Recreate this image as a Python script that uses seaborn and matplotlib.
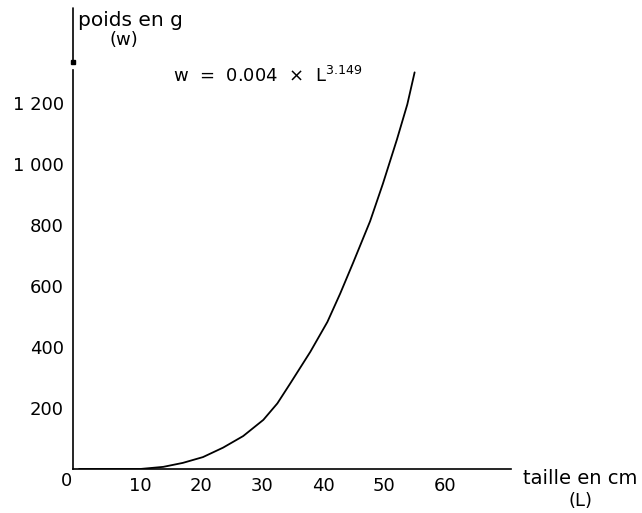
import matplotlib
matplotlib.use("Agg")
import matplotlib.pyplot as plt
import seaborn as sns
import pandas as pd

# Data
length_cm = [0, 5, 10, 13.8, 17, 20.3, 23.6, 26.9, 30.2, 32.5, 34.6, 37.9,
             40.7, 42.8, 44.9, 47.7, 49.8, 52.1, 53.8, 55.0]
weight_g = [0, 0, 0, 7, 20, 39, 70, 108, 161, 215, 280, 384,
            482, 575, 675, 812, 935, 1080, 1195, 1300]
x_ticks = [10, 20, 30, 40, 50, 60]
y_ticks = [200, 400, 600, 800, 1000, 1200]
y_tick_labels = ["200", "400", "600", "800", "1 000", "1 200"]

sns.set_style("white")
plt.rcParams["font.family"] = ["DejaVu Sans"]

W, H = 642, 513
fig = plt.figure(figsize=(W / 100, H / 100), dpi=100)
left_px, right_px, bottom_px, top_px = 73, 511, 469, 8
ax = fig.add_axes([left_px / W, (H - bottom_px) / H,
                   (right_px - left_px) / W, (bottom_px - top_px) / H])

df = pd.DataFrame({"L": length_cm, "w": weight_g})
sns.lineplot(data=df, x="L", y="w", color="black", linewidth=1.3, ax=ax)

ax.set_xlim(-1, 70.8)
ax.set_ylim(0, 1511)
ax.set_xlabel("")
ax.set_ylabel("")

for s in ["top", "right"]:
    ax.spines[s].set_visible(False)
for s in ["left", "bottom"]:
    ax.spines[s].set_color("black")
    ax.spines[s].set_linewidth(1.2)
ax.spines["left"].set_bounds(0, 1308)
# upper part of the broken y axis
ax.plot([0, 0], [1334, 1511], color="black", lw=1.2,
        transform=ax.get_yaxis_transform(), clip_on=False)
ax.plot([0], [1334], marker="s", ms=2.5, color="black",
        transform=ax.get_yaxis_transform(), clip_on=False)

ax.set_xticks(x_ticks)
ax.set_xticklabels([str(t) for t in x_ticks])
ax.set_yticks(y_ticks)
ax.set_yticklabels(y_tick_labels)
ax.tick_params(axis="x", direction="in", length=2, width=1, pad=6,
               labelsize=13, colors="black")
ax.tick_params(axis="y", direction="out", length=2, width=1, pad=4.5,
               labelsize=13, colors="black")

def px(x, y):
    return x / W, 1 - y / H

kw = dict(color="black", va="center")
fig.text(*px(66, 481), "0", ha="center", fontsize=13, **kw)
fig.text(*px(130, 20), "poids en g", ha="center", fontsize=14.5, **kw)
fig.text(*px(124, 40), "(w)", ha="center", fontsize=13, **kw)
fig.text(*px(173, 76), r"w  =  0.004  ×  L$^{\mathregular{3.149}}$",
         ha="left", fontsize=13, **kw)
fig.text(*px(523, 479), "taille en cm", ha="left", fontsize=14, **kw)
fig.text(*px(580, 501), "(L)", ha="center", fontsize=13, **kw)

fig.savefig("out.png", dpi=100)
